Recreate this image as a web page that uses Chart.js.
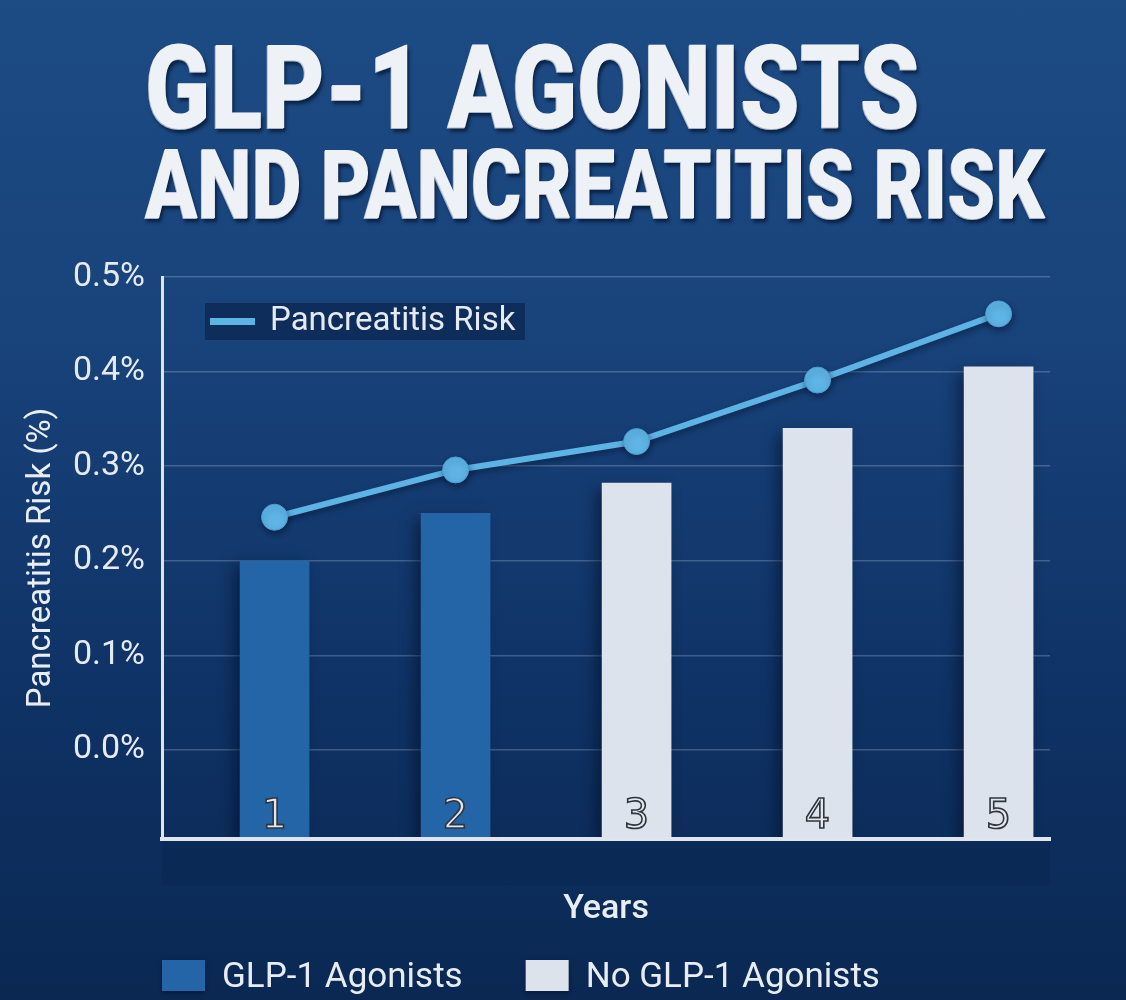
<!DOCTYPE html>
<html>
<head>
<meta charset="utf-8">
<title>GLP-1 Agonists and Pancreatitis Risk</title>
<script src="https://cdn.jsdelivr.net/npm/chart.js@4.4.0/dist/chart.umd.min.js"></script>
<style>
  html, body { margin: 0; padding: 0; }
  body {
    width: 1126px; height: 1000px; overflow: hidden; position: relative;
    background: linear-gradient(180deg, #1d4b84 0%, #18427a 35%, #0f3265 70%, #0a2852 100%);
    font-family: Roboto, "Noto Sans", sans-serif;
  }
  #chart { position: absolute; left: 0; top: 0; }
  .title {
    position: absolute; left: 145px; white-space: nowrap; color: #eef1f6;
    font-weight: 900; transform-origin: 0 0;
    text-shadow: -1px 1px 0 #a7b3c6, 2px 4px 4px rgba(3, 15, 40, 0.7);
  }
  #t1 { top: 30px; font-size: 117px; line-height: 117px; }
  #t2 { top: 137px; font-size: 96px; line-height: 96px; }
</style>
</head>
<body>
<canvas id="chart" width="1126" height="1000"></canvas>
<div class="title" id="t1">GLP-1 AGONISTS</div>
<div class="title" id="t2">AND PANCREATITIS RISK</div>
<script>
// data
const years = [1, 2, 3, 4, 5];
const yearLabels = ['1', '2', '3', '4', '5'];
const glpRisk = [0.20, 0.25, null, null, null];
const noGlpRisk = [null, null, 0.282, 0.34, 0.405];
const trendRisk = [0.246, 0.296, 0.326, 0.391, 0.461];
const yTicks = [0, 0.1, 0.2, 0.3, 0.4, 0.5];

const Y_MIN = -0.0942; // bars run down to the axis line below 0.0%
const LINE_COLOR = '#5cb3e4';

const pts = arr => years.map((x, i) => ({ x, y: arr[i] })).filter(p => p.y !== null);

// squeeze the big heading to the width it has in the picture
function fitTitle(id, w) {
  const el = document.getElementById(id);
  el.style.transform = 'scaleX(' + (w / el.offsetWidth) + ')';
}
fitTitle('t1', 775);
fitTitle('t2', 900);

const decor = {
  id: 'decor',
  beforeDraw(chart) {
    const { ctx, chartArea: a } = chart;
    ctx.save();
    ctx.fillStyle = 'rgba(4, 18, 45, 0.1)';
    ctx.fillRect(a.left, a.bottom, a.right - a.left, 46);
    ctx.restore();
  },
  beforeDatasetDraw(chart, args) {
    const ctx = chart.ctx;
    ctx.save();
    if (args.meta.type === 'bar') {
      ctx.shadowColor = 'rgba(2, 12, 35, 0.55)';
      ctx.shadowBlur = 14;
      ctx.shadowOffsetX = -6;
      ctx.shadowOffsetY = 6;
    } else {
      ctx.shadowColor = 'rgba(2, 12, 35, 0.45)';
      ctx.shadowBlur = 6;
      ctx.shadowOffsetX = 1;
      ctx.shadowOffsetY = 3;
    }
  },
  afterDatasetDraw(chart) {
    chart.ctx.restore();
  },
  afterDatasetsDraw(chart) {
    // year numbers sit inside the foot of each bar
    const { ctx, chartArea: a, scales: { x } } = chart;
    ctx.save();
    ctx.font = '40px "DejaVu Sans"';
    ctx.textAlign = 'center';
    ctx.textBaseline = 'alphabetic';
    ctx.lineWidth = 1.6;
    ctx.strokeStyle = '#30343c';
    ctx.fillStyle = '#e3e8f0';
    years.forEach((yr, i) => {
      const px = x.getPixelForValue(yr);
      ctx.fillText(yearLabels[i], px, a.bottom - 11);
      ctx.strokeText(yearLabels[i], px, a.bottom - 11);
    });
    ctx.restore();
  },
  afterDraw(chart) {
    const { ctx, chartArea: a } = chart;
    const ds = chart.data.datasets;
    ctx.save();

    // line legend inside the plot
    ctx.fillStyle = '#0f2d5a';
    ctx.fillRect(a.left + 43, a.top + 26, 320, 37);
    ctx.fillStyle = ds[0].borderColor;
    ctx.fillRect(a.left + 48, a.top + 41, 45, 7);
    ctx.fillStyle = '#e6ebf3';
    ctx.font = '33px Roboto';
    ctx.textBaseline = 'middle';
    ctx.fillText(ds[0].label, a.left + 108, a.top + 45);

    // bar legend below the axis title
    ctx.font = '35px Roboto';
    ctx.textBaseline = 'alphabetic';
    let x = a.left;
    [ds[1], ds[2]].forEach(d => {
      ctx.shadowColor = 'rgba(2, 12, 35, 0.5)';
      ctx.shadowBlur = 4;
      ctx.shadowOffsetY = 2;
      ctx.fillStyle = d.backgroundColor;
      ctx.fillRect(x, 960, 43, 31);
      ctx.shadowColor = 'transparent';
      ctx.fillStyle = '#e8edf4';
      ctx.fillText(d.label, x + 60, 987);
      x += 60 + ctx.measureText(d.label).width + 63;
    });
    ctx.restore();
  }
};

new Chart(document.getElementById('chart'), {
  data: {
    datasets: [
      {
        type: 'line',
        label: 'Pancreatitis Risk',
        data: pts(trendRisk),
        borderColor: LINE_COLOR,
        backgroundColor: LINE_COLOR,
        borderWidth: 6,
        pointRadius: 13,
        pointBackgroundColor: '#5db4e5',
        pointBorderColor: '#4a9dd2',
        pointBorderWidth: 1,
        tension: 0,
        order: 0
      },
      {
        type: 'bar',
        label: 'GLP-1 Agonists',
        data: pts(glpRisk),
        backgroundColor: '#2465a7',
        base: Y_MIN,
        barThickness: 69,
        grouped: false,
        order: 1
      },
      {
        type: 'bar',
        label: 'No GLP-1 Agonists',
        data: pts(noGlpRisk),
        backgroundColor: '#dde3ed',
        base: Y_MIN,
        barThickness: 69,
        grouped: false,
        order: 1
      }
    ]
  },
  options: {
    responsive: false,
    animation: false,
    layout: { padding: { left: 0, right: 76, top: 277, bottom: 0 } },
    plugins: {
      legend: { display: false },
      tooltip: { enabled: false }
    },
    scales: {
      x: {
        type: 'linear',
        min: 0.378,
        max: 5.284,
        offset: false,
        afterFit: s => { s.height = 161; },
        ticks: { display: false },
        grid: { display: false },
        border: { display: true, color: '#dfe5ee', width: 4, z: 1 },
        title: {
          display: true,
          text: 'Years',
          color: '#e9eef5',
          font: { family: 'Roboto', size: 34, weight: '500' },
          padding: { bottom: 70 }
        }
      },
      y: {
        min: Y_MIN,
        max: 0.5,
        afterFit: s => { s.width = 162; },
        afterBuildTicks: s => { s.ticks = yTicks.map(v => ({ value: v })); },
        ticks: {
          color: '#e6ebf3',
          font: { family: 'Roboto', size: 34 },
          padding: 17,
          callback: v => v.toFixed(1) + '%'
        },
        grid: { color: 'rgba(190, 205, 230, 0.28)', lineWidth: 1.5, drawTicks: false },
        border: { display: true, color: '#dfe5ee', width: 3, z: 1 },
        title: {
          display: true,
          text: 'Pancreatitis Risk (%)',
          color: '#e9eef5',
          font: { family: 'Roboto', size: 33 },
          padding: { top: 22 }
        }
      }
    }
  },
  plugins: [decor]
});
</script>
</body>
</html>
